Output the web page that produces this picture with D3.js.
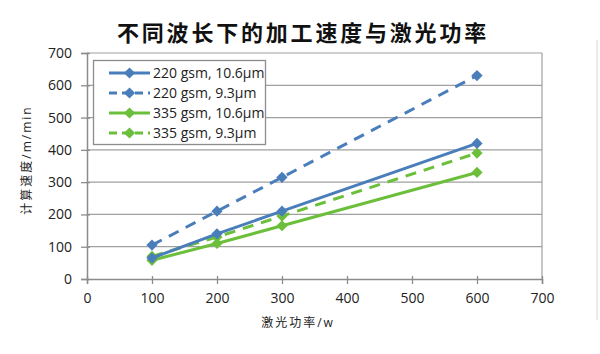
<!DOCTYPE html>
<html>
<head>
<meta charset="utf-8">
<script src="https://cdn.jsdelivr.net/npm/d3@7"></script>
<style>
  body { margin: 0; background: #fff; }
  text { font-family: "Open Sans", "Noto Sans CJK SC", sans-serif; }
</style>
</head>
<body>
<script>
// data
const powers = [100, 200, 300, 600];
const seriesNames = ['220 gsm, 10.6\u00b5m', '220 gsm, 9.3\u00b5m', '335 gsm, 10.6\u00b5m', '335 gsm, 9.3\u00b5m'];
const speed220_106 = [65, 140, 210, 420];
const speed220_93 = [105, 210, 315, 630];
const speed335_106 = [58, 110, 165, 330];
const speed335_93 = [70, 130, 195, 390];
const xTicks = [0, 100, 200, 300, 400, 500, 600, 700];
const yTicks = [0, 100, 200, 300, 400, 500, 600, 700];

const blue = '#4a7ebb', green = '#6bbf3a';
const series = [
  { name: seriesNames[0], values: speed220_106, color: blue, dash: null },
  { name: seriesNames[1], values: speed220_93, color: blue, dash: '11,8' },
  { name: seriesNames[2], values: speed335_106, color: green, dash: null },
  { name: seriesNames[3], values: speed335_93, color: green, dash: '11,8' }
];

const width = 600, height = 354;
const svg = d3.select('body').append('svg')
  .attr('width', width)
  .attr('height', height);

const x = d3.scaleLinear().domain([0, 700]).range([87, 542]);
const y = d3.scaleLinear().domain([0, 700]).range([279, 53]);

// title
svg.append('text')
  .attr('x', 303).attr('y', 41)
  .attr('text-anchor', 'middle')
  .attr('font-family', '"Noto Sans CJK SC"')
  .attr('font-size', 22)
  .attr('font-weight', 'bold')
  .attr('letter-spacing', 2.8)
  .attr('fill', '#111')
  .text('不同波长下的加工速度与激光功率');

// gridlines
svg.append('g')
  .selectAll('line')
  .data(yTicks.slice(1))
  .enter().append('line')
  .attr('x1', x(0)).attr('x2', x(700))
  .attr('y1', d => y(d)).attr('y2', d => y(d))
  .attr('stroke', '#a0a0a0')
  .attr('stroke-width', 1.2);

// right border of plot area
svg.append('line')
  .attr('x1', x(700)).attr('x2', x(700))
  .attr('y1', y(700)).attr('y2', y(0))
  .attr('stroke', '#a0a0a0')
  .attr('stroke-width', 1.2);

// axes
const xAxis = svg.append('g')
  .attr('transform', `translate(0,${y(0)})`)
  .call(d3.axisBottom(x).tickValues(xTicks).tickSize(5).tickPadding(9));
const yAxis = svg.append('g')
  .attr('transform', `translate(${x(0)},0)`)
  .call(d3.axisLeft(y).tickValues(yTicks).tickSize(6).tickPadding(9));

[xAxis, yAxis].forEach(a => {
  a.select('.domain').attr('stroke', '#8c8c8c').attr('stroke-width', 1.5);
  a.selectAll('.tick line').attr('stroke', '#8c8c8c').attr('stroke-width', 1.3);
  a.selectAll('.tick text')
    .attr('font-family', '"Open Sans", sans-serif')
    .attr('font-size', 14)
    .attr('fill', '#222');
});
xAxis.selectAll('.tick line').attr('y1', -3);
yAxis.selectAll('.tick line').attr('x1', 3);

// axis labels
svg.append('text')
  .attr('x', 298).attr('y', 327)
  .attr('text-anchor', 'middle')
  .attr('font-family', '"Noto Sans CJK SC"')
  .attr('font-size', 12)
  .attr('letter-spacing', 2)
  .attr('fill', '#222')
  .text('激光功率/w');

svg.append('text')
  .attr('transform', 'translate(31,160) rotate(-90)')
  .attr('text-anchor', 'middle')
  .attr('font-family', '"Noto Sans CJK SC"')
  .attr('font-size', 12)
  .attr('letter-spacing', 2)
  .attr('fill', '#222')
  .text('计算速度/m/min');

// lines and markers
const line = d3.line()
  .x((d, i) => x(powers[i]))
  .y(d => y(d));

const diamond = d3.symbol().type(d3.symbolDiamond2).size(80);

// draw bottom series first so blue solid sits on top like the reference
series.slice().reverse().forEach(s => {
  svg.append('path')
    .datum(s.values)
    .attr('d', line)
    .attr('fill', 'none')
    .attr('stroke', s.color)
    .attr('stroke-width', 3)
    .attr('stroke-dasharray', s.dash);

  svg.append('g')
    .selectAll('path')
    .data(s.values)
    .enter().append('path')
    .attr('d', diamond)
    .attr('transform', (d, i) => `translate(${x(powers[i])},${y(d)})`)
    .attr('fill', s.color);
});

// legend
const legend = svg.append('g');
legend.append('rect')
  .attr('x', 93.5).attr('y', 60.5)
  .attr('width', 172).attr('height', 84)
  .attr('fill', '#fff')
  .attr('stroke', '#8c8c8c')
  .attr('stroke-width', 1.3);

const rows = legend.selectAll('g.row')
  .data(series)
  .enter().append('g')
  .attr('class', 'row')
  .attr('transform', (d, i) => `translate(0,${73 + i * 20})`);

rows.append('line')
  .attr('x1', 109).attr('x2', 150)
  .attr('stroke', d => d.color)
  .attr('stroke-width', 3)
  .attr('stroke-dasharray', d => d.dash ? '8,5' : null);

rows.append('path')
  .attr('d', diamond)
  .attr('transform', 'translate(129.5,0)')
  .attr('fill', d => d.color);

rows.append('text')
  .attr('x', 153).attr('y', 5)
  .attr('font-family', '"Open Sans", sans-serif')
  .attr('font-size', 14)
  .attr('fill', '#222')
  .text(d => d.name);

// faint edge line seen at the right side of the reference
svg.append('line')
  .attr('x1', 597).attr('x2', 597)
  .attr('y1', 40).attr('y2', 320)
  .attr('stroke', '#d8d8d8');
</script>
</body>
</html>
